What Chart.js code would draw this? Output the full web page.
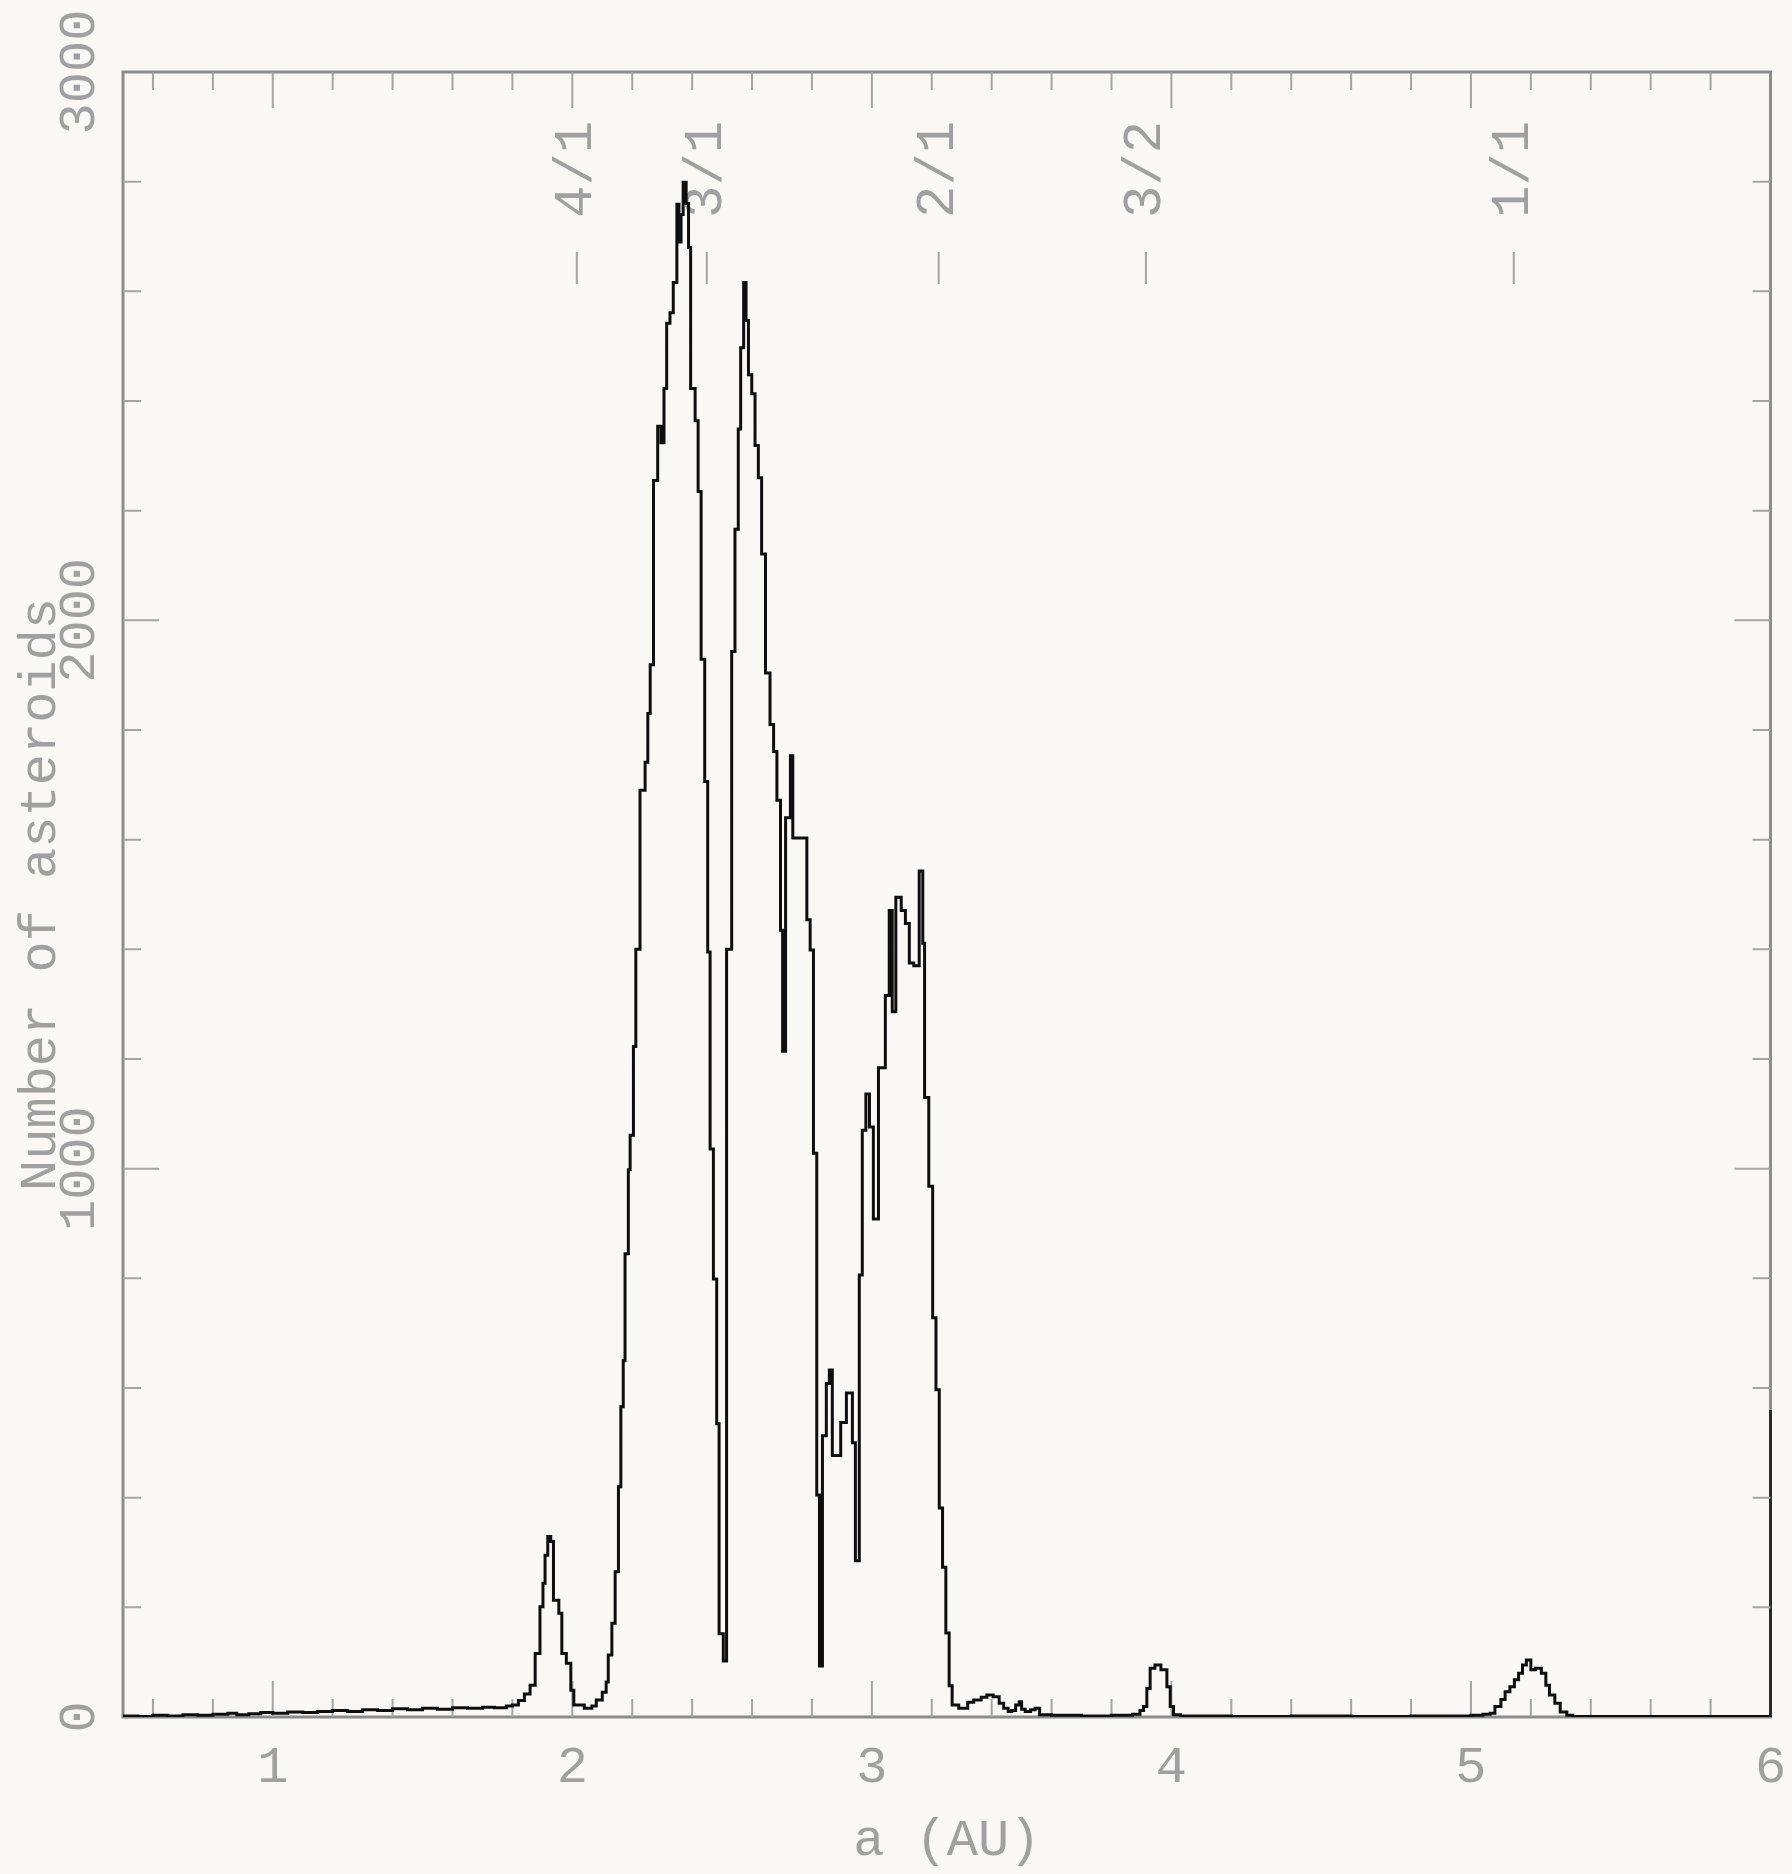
<!DOCTYPE html>
<html>
<head>
<meta charset="utf-8">
<script src="https://cdn.jsdelivr.net/npm/chart.js@4.4.1/dist/chart.umd.min.js"></script>
<style>
  html, body { margin: 0; padding: 0; background: #f9f8f4; }
  canvas { display: block; }
</style>
</head>
<body>
<canvas id="asteroidChart" width="1792" height="1874"></canvas>
<script>
// histogram bins: left edge of each bin (AU) and the count in it
const binStartAU = [
  0.50, 0.55, 0.60, 0.65, 0.70, 0.75, 0.80, 0.85, 0.88, 0.92,
  0.96, 1.00, 1.05, 1.10, 1.15, 1.20, 1.25, 1.30, 1.35, 1.40,
  1.45, 1.50, 1.55, 1.60, 1.65, 1.70, 1.74, 1.78, 1.80, 1.82,
  1.84, 1.859, 1.876, 1.892, 1.902, 1.909, 1.918, 1.928, 1.937, 1.955,
  1.965, 1.980, 1.995, 2.005, 2.040, 2.065, 2.080, 2.100, 2.113, 2.120,
  2.132, 2.143, 2.154, 2.162, 2.170, 2.176, 2.187, 2.193, 2.204, 2.212,
  2.226, 2.243, 2.252, 2.260, 2.271, 2.285, 2.296, 2.306, 2.315, 2.326,
  2.337, 2.349, 2.356, 2.363, 2.370, 2.380, 2.388, 2.395, 2.410, 2.420,
  2.430, 2.442, 2.452, 2.460, 2.471, 2.482, 2.490, 2.504, 2.515, 2.532,
  2.543, 2.554, 2.562, 2.572, 2.580, 2.588, 2.599, 2.610, 2.621, 2.632,
  2.645, 2.660, 2.672, 2.683, 2.695, 2.702, 2.712, 2.728, 2.736, 2.783,
  2.794, 2.805, 2.816, 2.825, 2.835, 2.848, 2.858, 2.868, 2.896, 2.915,
  2.935, 2.945, 2.958, 2.968, 2.980, 2.992, 3.005, 3.022, 3.045, 3.058,
  3.068, 3.080, 3.098, 3.112, 3.125, 3.140, 3.158, 3.170, 3.176, 3.190,
  3.203, 3.214, 3.225, 3.236, 3.247, 3.258, 3.268, 3.290, 3.320, 3.340,
  3.365, 3.384, 3.405, 3.425, 3.440, 3.455, 3.467, 3.480, 3.492, 3.500,
  3.512, 3.530, 3.545, 3.560, 3.600, 3.700, 3.800, 3.870, 3.895, 3.907,
  3.918, 3.929, 3.945, 3.965, 3.985, 3.996, 4.007, 4.030, 4.200, 4.400,
  4.600, 4.800, 5.000, 5.040, 5.064, 5.080, 5.100, 5.114, 5.130, 5.145,
  5.159, 5.172, 5.185, 5.200, 5.215, 5.235, 5.250, 5.262, 5.280, 5.298,
  5.320, 5.340, 6.00
];
const asteroidCounts = [
  2, 1, 3, 2, 4, 3, 5, 7, 4, 6,
  8, 7, 9, 8, 10, 12, 10, 13, 12, 15,
  13, 16, 14, 17, 16, 18, 17, 20, 22, 30,
  42, 58, 116, 201, 244, 295, 329, 320, 213, 189,
  116, 98, 49, 22, 16, 20, 31, 45, 64, 113,
  171, 265, 420, 566, 650, 845, 998, 1061, 1223, 1400,
  1690, 1741, 1830, 1919, 2255, 2354, 2324, 2423, 2542, 2561,
  2616, 2759, 2690, 2740, 2799, 2760, 2680, 2423, 2364, 2235,
  1929, 1706, 1395, 1036, 799, 535, 152, 102, 1400, 1943,
  2166, 2349, 2497, 2616, 2547, 2448, 2413, 2319, 2260, 2121,
  1904, 1810, 1761, 1672, 1435, 1214, 1640, 1753, 1603, 1454,
  1399, 1028, 405, 93, 513, 608, 633, 477, 537, 591,
  500, 285, 806, 1070, 1136, 1076, 908, 1184, 1316, 1471,
  1286, 1495, 1471, 1447, 1375, 1370, 1543, 1411, 1130, 968,
  728, 597, 381, 273, 153, 57, 22, 16, 27, 31,
  36, 40, 37, 25, 16, 10, 12, 22, 28, 14,
  10, 13, 16, 4, 3, 2, 3, 5, 12, 19,
  52, 89, 95, 86, 55, 19, 4, 2, 1, 2,
  1, 2, 3, 5, 7, 19, 32, 46, 55, 68,
  80, 95, 104, 86, 89, 80, 58, 40, 25, 9,
  3, 1, 1
];

const xTickValues = [1, 2, 3, 4, 5, 6];
const yTickValues = [0, 1000, 2000, 3000];
const resonanceAU = [2.015, 2.449, 3.223, 3.915, 5.143];
const resonanceLabels = ['4/1', '3/1', '2/1', '3/2', '1/1'];

const textGray = '#a0a0a0';
const axisGray = '#8c8c8c';
const fontFamily = '"Liberation Mono", "DejaVu Sans Mono", monospace';

// frame, inward ticks on all four sides, rotated y labels, resonance marks
const framePlugin = {
  id: 'frame',
  beforeDatasetsDraw(chart) {
    const { ctx, chartArea: a, scales: { x, y } } = chart;
    ctx.save();
    ctx.strokeStyle = axisGray;
    ctx.lineWidth = 3;
    ctx.strokeRect(a.left, a.top, a.right - a.left, a.bottom - a.top);

    // darker stretch at the foot of the right border, as in the scan
    ctx.strokeStyle = '#2a2a2a';
    ctx.beginPath();
    ctx.moveTo(a.right, y.getPixelForValue(560));
    ctx.lineTo(a.right, a.bottom);
    ctx.stroke();

    ctx.lineWidth = 2;
    ctx.strokeStyle = '#a4a4a4';
    for (let v = 0.6; v <= 5.95; v += 0.2) {
      const px = x.getPixelForValue(v);
      const major = Math.abs(v - Math.round(v)) < 0.01;
      const len = major ? 36 : 18;
      ctx.beginPath();
      ctx.moveTo(px, a.bottom); ctx.lineTo(px, a.bottom - len);
      ctx.moveTo(px, a.top); ctx.lineTo(px, a.top + len);
      ctx.stroke();
    }
    for (let v = 200; v < 3000; v += 200) {
      const py = y.getPixelForValue(v);
      const len = v % 1000 === 0 ? 36 : 18;
      ctx.beginPath();
      ctx.moveTo(a.left, py); ctx.lineTo(a.left + len, py);
      ctx.moveTo(a.right, py); ctx.lineTo(a.right - len, py);
      ctx.stroke();
    }

    ctx.fillStyle = textGray;
    ctx.font = '52px ' + fontFamily;
    ctx.textAlign = 'center';
    ctx.textBaseline = 'middle';
    yTickValues.forEach(v => {
      ctx.save();
      ctx.translate(80, y.getPixelForValue(v));
      ctx.rotate(-Math.PI / 2);
      ctx.fillText(String(v), 0, 0);
      ctx.restore();
    });

    ctx.font = '54px ' + fontFamily;
    ctx.textAlign = 'left';
    resonanceAU.forEach((r, i) => {
      const px = x.getPixelForValue(r);
      ctx.beginPath();
      ctx.moveTo(px, 252); ctx.lineTo(px, 284);
      ctx.stroke();
      ctx.save();
      ctx.translate(px, 218);
      ctx.rotate(-Math.PI / 2);
      ctx.fillText(resonanceLabels[i], 0, 0);
      ctx.restore();
    });
    ctx.restore();
  }
};

new Chart(document.getElementById('asteroidChart'), {
  type: 'line',
  data: {
    datasets: [{
      data: binStartAU.map((a, i) => ({ x: a, y: asteroidCounts[i] })),
      stepped: true,
      borderColor: '#0e0e0e',
      borderWidth: 3,
      pointRadius: 0,
      fill: false
    }]
  },
  options: {
    responsive: false,
    devicePixelRatio: 1,
    animation: false,
    layout: { padding: { top: 72, right: 21.5, left: 0, bottom: 0 } },
    plugins: { legend: { display: false }, tooltip: { enabled: false } },
    scales: {
      x: {
        type: 'linear',
        min: 0.5,
        max: 6,
        afterBuildTicks: s => { s.ticks = xTickValues.map(v => ({ value: v })); },
        afterFit: s => { s.height = 157; s.paddingLeft = 0; s.paddingRight = 0; },
        grid: { display: false, drawTicks: false },
        border: { display: false },
        ticks: { color: textGray, font: { family: fontFamily, size: 52 }, padding: 20, maxRotation: 0 },
        title: { display: true, text: 'a (AU)', color: textGray, font: { family: fontFamily, size: 52 }, padding: { top: 2, bottom: 2 } }
      },
      y: {
        type: 'linear',
        min: 0,
        max: 3000,
        afterFit: s => { s.width = 123; s.paddingTop = 0; s.paddingBottom = 0; },
        grid: { display: false, drawTicks: false },
        border: { display: false },
        ticks: { display: false },
        title: { display: true, text: 'Number of asteroids', color: textGray, font: { family: fontFamily, size: 52 }, padding: { top: 10, bottom: 10 } }
      }
    }
  },
  plugins: [framePlugin]
});
</script>
</body>
</html>
